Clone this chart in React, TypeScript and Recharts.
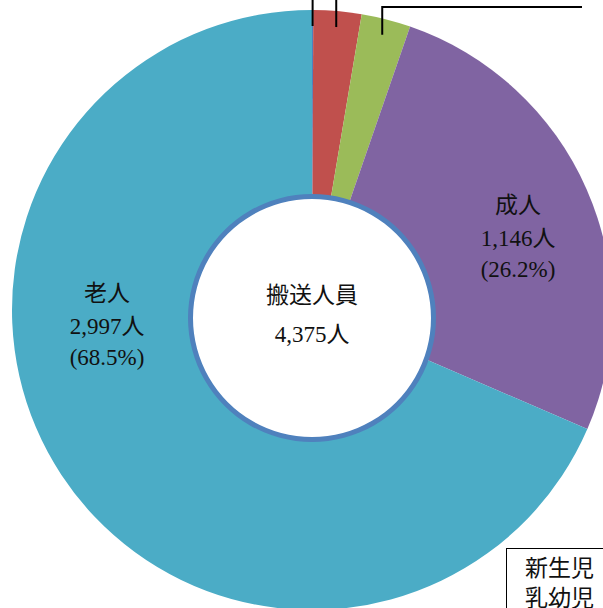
import { PieChart, Pie, Cell } from 'recharts'

const categories = ['新生児', '乳幼児', '少年', '成人', '老人']
const counts = [3, 113, 116, 1146, 2997]
const colors = ['#4f81bd', '#c0504d', '#9bbb59', '#8064a2', '#4bacc6']
const centerTitle = '搬送人員'
const boxLines = ['新生児', '乳幼児']

const total = counts.reduce((a, b) => a + b, 0)
const data = categories.map((name, i) => ({ name, value: counts[i] }))
const centerData = [{ name: centerTitle, value: total }]

const FONT = "'Liberation Serif', 'Noto Sans CJK JP', serif"
const RAD = Math.PI / 180

// where the in-slice labels sit (top line centre)
const labelPos: Record<string, [number, number]> = {
  成人: [518, 205],
  老人: [107, 293],
}

const fmt = (n: number) => n.toLocaleString('en-US')

function SliceLabel(props: any) {
  const { cx, cy, midAngle, outerRadius, name, value, percent } = props
  const pos = labelPos[name]
  if (pos) {
    const [x, y] = pos
    return (
      <text x={x} y={y} textAnchor="middle" dominantBaseline="central"
        fontFamily={FONT} fontSize={23} fill="#111">
        <tspan x={x} dy={0}>{name}</tspan>
        <tspan x={x} dy={33}>{fmt(value)}人</tspan>
        <tspan x={x} dy={31}>({(percent * 100).toFixed(1)}%)</tspan>
      </text>
    )
  }
  // small slices: leader line going up out of the picture
  const r = outerRadius - 16
  const x = cx + r * Math.cos(-midAngle * RAD)
  const y = cy + r * Math.sin(-midAngle * RAD)
  const pts = name === '少年'
    ? `${x},${y} ${x},7 582,7`
    : `${x},${y} ${x},-40`
  return <polyline points={pts} fill="none" stroke="#000" strokeWidth={2} />
}

function CenterLabel(props: any) {
  const { cx, value } = props
  return (
    <text x={cx} y={295} textAnchor="middle" dominantBaseline="central"
      fontFamily={FONT} fontSize={23} fill="#111">
      <tspan x={cx} dy={0}>{centerTitle}</tspan>
      <tspan x={cx} dy={39}>{fmt(value)}人</tspan>
    </text>
  )
}

export default function App() {
  return (
    <div style={{ position: 'absolute', left: 0, top: 0, width: 603, height: 608, overflow: 'hidden', background: '#fff' }}>
      <PieChart width={603} height={608} margin={{ top: 0, right: 0, bottom: 0, left: 0 }}>
        <Pie
          data={data}
          dataKey="value"
          nameKey="name"
          cx={312}
          cy={310}
          outerRadius={300}
          innerRadius={0}
          startAngle={90}
          endAngle={-270}
          stroke="none"
          label={SliceLabel}
          labelLine={false}
          isAnimationActive={false}
        >
          {data.map((d, i) => <Cell key={d.name} fill={colors[i]} />)}
        </Pie>
        <Pie
          data={centerData}
          dataKey="value"
          cx={312}
          cy={318}
          outerRadius={124}
          innerRadius={0}
          startAngle={90}
          endAngle={-270}
          fill="#4f81bd"
          stroke="none"
          labelLine={false}
          isAnimationActive={false}
        />
        <Pie
          data={centerData}
          dataKey="value"
          cx={312}
          cy={318}
          outerRadius={119}
          innerRadius={0}
          startAngle={90}
          endAngle={-270}
          fill="#fff"
          stroke="none"
          label={CenterLabel}
          labelLine={false}
          isAnimationActive={false}
        />
      </PieChart>
      <div style={{
        position: 'absolute', left: 506, top: 548, width: 140, height: 120,
        border: '1.5px solid #000', background: '#fff', boxSizing: 'border-box',
        fontFamily: FONT, fontSize: 23, lineHeight: '30px', color: '#111',
        padding: '5px 0 0 18px',
      }}>
        {boxLines.map((t) => <div key={t}>{t}</div>)}
      </div>
    </div>
  )
}
